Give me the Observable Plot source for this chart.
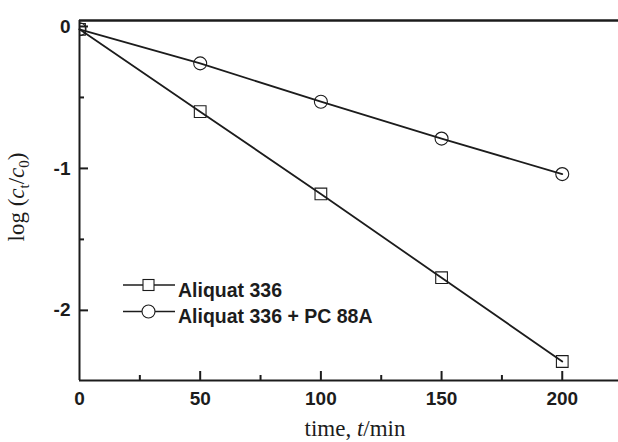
<!DOCTYPE html>
<html><head><meta charset="utf-8">
<script src="https://cdn.jsdelivr.net/npm/d3@7"></script>
<script src="https://cdn.jsdelivr.net/npm/@observablehq/plot@0.6"></script>
<style>
html,body{margin:0;padding:0;background:#fff;}
#chart{position:relative;width:618px;height:442px;}
</style></head><body><div id="chart"></div>
<script>
// Data
const times = [0, 50, 100, 150, 200];
const aliquat = [-0.02, -0.60, -1.18, -1.77, -2.36];
const aliquatPC = [-0.02, -0.26, -0.53, -0.79, -1.04];
const seriesNames = ["Aliquat 336", "Aliquat 336 + PC 88A"];
const xTicks = [0, 50, 100, 150, 200];
const xMinor = [25, 75, 125, 175];
const yTicks = [0, -1, -2];
const yMinor = [-0.5, -1.5];

const sq = times.map((t, i) => ({t, v: aliquat[i]}));
const ci = times.map((t, i) => ({t, v: aliquatPC[i]}));

const W = 618, H = 442, mL = 79, mT = 20, mB = 62, mR = 0;
const pw = W - mL - mR, ph = H - mT - mB;
const ink = "#1c1c1c";
const sansB = "'Liberation Sans', Arial, Helvetica, sans-serif";
const serif = "'Liberation Serif', 'Times New Roman', serif";
const yDom = [-2.494, 0.042];

const plot = Plot.plot({
  width: W, height: H, marginLeft: mL, marginTop: mT, marginBottom: mB, marginRight: mR,
  style: {background: "#fff", color: ink},
  x: {domain: [0, 223.3]},
  y: {domain: yDom},
  marks: [
    Plot.tickX(xTicks.slice(1), {insetTop: ph - 9, stroke: ink, strokeWidth: 2}),
    Plot.tickX(xMinor, {insetTop: ph - 5, stroke: ink, strokeWidth: 2}),
    Plot.tickY(yTicks, {insetRight: pw - 9, stroke: ink, strokeWidth: 2}),
    Plot.tickY(yMinor, {insetRight: pw - 5, stroke: ink, strokeWidth: 2}),
    Plot.axisX({ticks: xTicks, tickSize: 0, tickPadding: 11, tickFormat: d => String(d), fontSize: 19, fontWeight: "bold", fontFamily: sansB, fill: ink, label: null}),
    Plot.axisY({ticks: yTicks, tickSize: 0, tickPadding: 9, tickFormat: d => String(d), fontSize: 19, fontWeight: "bold", fontFamily: sansB, fill: ink, label: null}),
    Plot.ruleX([0], {stroke: ink, strokeWidth: 2}),
    Plot.ruleY([yDom[0]], {stroke: ink, strokeWidth: 2}),
    Plot.ruleY([yDom[1]], {stroke: ink, strokeWidth: 2.5}),
    Plot.line(sq, {x: "t", y: "v", stroke: ink, strokeWidth: 1.8}),
    Plot.line(ci, {x: "t", y: "v", stroke: ink, strokeWidth: 1.8}),
    Plot.dot(sq, {x: "t", y: "v", symbol: "square", r: 6.6, fill: "#fff", fillOpacity: 0, stroke: ink, strokeWidth: 1.1, clip: true}),
    Plot.dot(ci, {x: "t", y: "v", symbol: "circle", r: 6.5, fill: "#fff", fillOpacity: 0, stroke: ink, strokeWidth: 1.1, clip: true})
  ]
});
document.getElementById("chart").appendChild(plot);

const svg = d3.select(plot);
// x label
const xl = svg.append("text").attr("x", 355).attr("y", 436).attr("text-anchor", "middle")
  .attr("font-family", serif).attr("font-size", 23).attr("fill", ink);
xl.append("tspan").text("time, ");
xl.append("tspan").attr("font-style", "italic").text("t");
xl.append("tspan").text("/min");
// y label
const yl = svg.append("text").attr("transform", "translate(24,197) rotate(-90)").attr("text-anchor", "middle")
  .attr("font-family", serif).attr("font-size", 23).attr("fill", ink);
yl.append("tspan").text("log (");
yl.append("tspan").attr("font-style", "italic").text("c");
yl.append("tspan").attr("font-size", 15).attr("dy", 5).text("t");
yl.append("tspan").attr("dy", -5).text("/");
yl.append("tspan").attr("font-style", "italic").text("c");
yl.append("tspan").attr("font-size", 15).attr("dy", 5).text("0");
yl.append("tspan").attr("dy", -5).text(")");

// legend
const lg = svg.append("g");
seriesNames.forEach((name, i) => {
  const y = 285 + i * 26.5;
  const g = lg.append("g").attr("transform", `translate(0,${y})`);
  g.append("line").attr("x1", 123).attr("x2", 175).attr("y1", 0).attr("y2", 0).attr("stroke", ink).attr("stroke-width", 1.5);
  if (i === 0) {
    g.append("rect").attr("x", 143).attr("y", -5.5).attr("width", 11).attr("height", 11).attr("fill", "#fff").attr("stroke", ink).attr("stroke-width", 1.1);
  } else {
    g.append("circle").attr("cx", 148.5).attr("cy", 0).attr("r", 6.5).attr("fill", "#fff").attr("stroke", ink).attr("stroke-width", 1.1);
  }
  g.append("text").attr("x", 178).attr("y", 11.5).attr("text-anchor", "start").attr("font-family", sansB).attr("font-weight", "bold")
    .attr("font-size", 19.5).attr("fill", ink).text(name);
});
</script>
</body></html>
